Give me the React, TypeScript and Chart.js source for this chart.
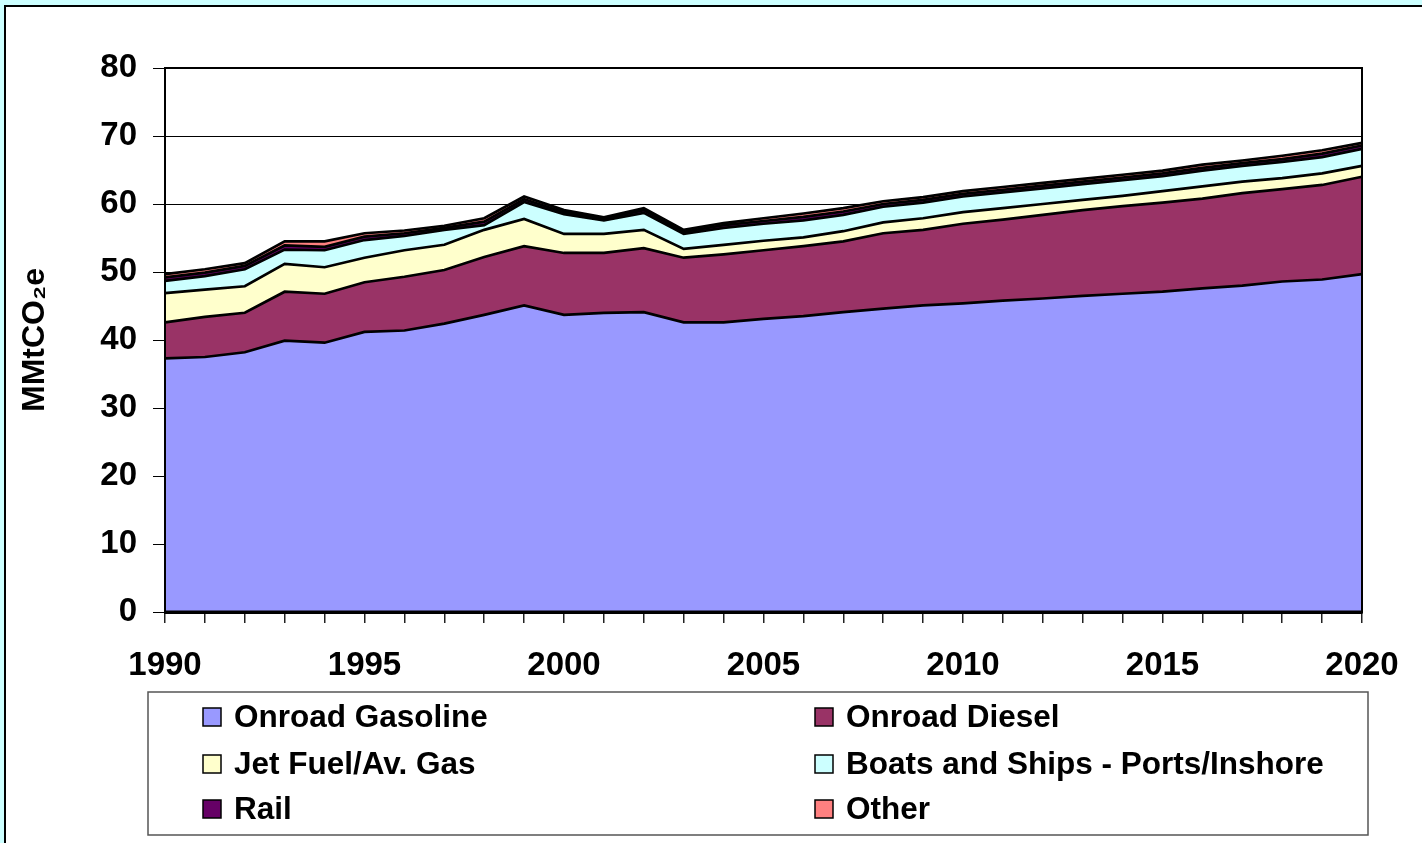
import React, { useEffect, useRef } from "react";
import { Chart, registerables } from "chart.js";

Chart.register(...registerables);

const years = [
  1990, 1991, 1992, 1993, 1994, 1995, 1996, 1997, 1998, 1999,
  2000, 2001, 2002, 2003, 2004, 2005, 2006, 2007, 2008, 2009,
  2010, 2011, 2012, 2013, 2014, 2015, 2016, 2017, 2018, 2019, 2020,
];

const onroadGasoline = [
  37.3, 37.5, 38.2, 39.9, 39.6, 41.2, 41.4, 42.4, 43.7, 45.1,
  43.7, 44.0, 44.1, 42.6, 42.6, 43.1, 43.5, 44.1, 44.6, 45.1,
  45.4, 45.8, 46.1, 46.5, 46.8, 47.1, 47.6, 48.0, 48.6, 48.9, 49.7,
];
const onroadDiesel = [
  5.3, 5.9, 5.8, 7.2, 7.2, 7.3, 7.9, 7.9, 8.5, 8.7,
  9.1, 8.8, 9.4, 9.5, 10.0, 10.1, 10.3, 10.4, 11.1, 11.1,
  11.7, 11.9, 12.3, 12.6, 12.9, 13.1, 13.2, 13.6, 13.6, 13.9, 14.3,
];
const jetFuel = [
  4.3, 4.0, 3.9, 4.1, 3.9, 3.6, 3.9, 3.7, 4.0, 4.0,
  2.8, 2.8, 2.7, 1.3, 1.4, 1.4, 1.3, 1.5, 1.6, 1.7,
  1.7, 1.7, 1.6, 1.5, 1.5, 1.7, 1.8, 1.7, 1.6, 1.7, 1.6,
];
const boatsShips = [
  1.8, 2.0, 2.5, 2.1, 2.5, 2.6, 2.1, 2.2, 0.7, 2.5,
  2.9, 2.0, 2.5, 2.2, 2.5, 2.5, 2.5, 2.4, 2.3, 2.3,
  2.3, 2.3, 2.3, 2.3, 2.3, 2.2, 2.3, 2.3, 2.4, 2.4, 2.5,
];
const rail = [
  0.5, 0.5, 0.5, 0.6, 0.5, 0.5, 0.4, 0.3, 0.5, 0.4,
  0.3, 0.25, 0.4, 0.3, 0.4, 0.4, 0.5, 0.5, 0.4, 0.4,
  0.4, 0.4, 0.4, 0.4, 0.4, 0.4, 0.4, 0.4, 0.4, 0.5, 0.5,
];
const other = [
  0.5, 0.5, 0.4, 0.6, 0.8, 0.5, 0.4, 0.3, 0.5, 0.4,
  0.3, 0.2, 0.3, 0.3, 0.3, 0.4, 0.5, 0.5, 0.4, 0.4,
  0.4, 0.4, 0.4, 0.4, 0.4, 0.4, 0.5, 0.4, 0.5, 0.5, 0.4,
];

const seriesNames = [
  "Onroad Gasoline",
  "Onroad Diesel",
  "Jet Fuel/Av. Gas",
  "Boats and Ships - Ports/Inshore",
  "Rail",
  "Other",
];
const seriesColors = ["#9999FF", "#993366", "#FFFFCC", "#CCFFFF", "#660066", "#FF8080"];
const seriesValues = [onroadGasoline, onroadDiesel, jetFuel, boatsShips, rail, other];

const yTitle = "MMtCO\u2082e";
const FONT = "'Liberation Sans', Arial, sans-serif";

const W = 1422;
const H = 843;

const backgroundPlugin = {
  id: "pageBackground",
  beforeDraw(chart: any) {
    const ctx = chart.ctx;
    ctx.save();
    ctx.fillStyle = "#CCFFFF";
    ctx.fillRect(0, 0, W, H);
    ctx.fillStyle = "#FFFFFF";
    ctx.fillRect(5, 6, W, H);
    ctx.strokeStyle = "#000";
    ctx.lineWidth = 2;
    ctx.beginPath();
    ctx.moveTo(5, H);
    ctx.lineTo(5, 6);
    ctx.lineTo(W, 6);
    ctx.stroke();
    ctx.restore();
  },
};

const framePlugin = {
  id: "plotFrame",
  afterDatasetsDraw(chart: any) {
    const { left, top, right, bottom } = chart.chartArea;
    const ctx = chart.ctx;
    ctx.save();
    ctx.strokeStyle = "#000";
    ctx.lineWidth = 2;
    ctx.strokeRect(left, top, right - left, bottom - top);
    ctx.lineWidth = 3;
    ctx.beginPath();
    ctx.moveTo(left - 1, bottom);
    ctx.lineTo(right + 1, bottom);
    ctx.stroke();
    ctx.restore();
  },
};

const legendPlugin = {
  id: "boxLegend",
  afterDraw(chart: any) {
    const ctx = chart.ctx;
    const boxL = 148, boxT = 692, boxR = 1368, boxB = 835;
    ctx.save();
    ctx.strokeStyle = "#555";
    ctx.lineWidth = 1.5;
    ctx.strokeRect(boxL, boxT, boxR - boxL, boxB - boxT);
    const colX = [203, 815];
    const rowY = [717, 764, 809];
    ctx.font = `bold 31.5px ${FONT}`;
    ctx.textBaseline = "middle";
    ctx.fillStyle = "#000";
    chart.data.datasets.forEach((ds: any, i: number) => {
      const x = colX[i % 2];
      const y = rowY[Math.floor(i / 2)];
      ctx.fillStyle = ds.backgroundColor;
      ctx.fillRect(x, y - 9, 18, 18);
      ctx.strokeStyle = "#000";
      ctx.lineWidth = 1.5;
      ctx.strokeRect(x, y - 9, 18, 18);
      ctx.fillStyle = "#000";
      ctx.fillText(ds.label, x + 31, y + 1);
    });
    ctx.restore();
  },
};

export default function App() {
  const ref = useRef<HTMLCanvasElement | null>(null);

  useEffect(() => {
    if (!ref.current) return;
    const tickFont = { family: FONT, size: 33, weight: "bold" as const };
    const chart = new Chart(ref.current, {
      type: "line",
      data: {
        labels: years.map(String),
        datasets: seriesNames.map((name, i) => ({
          label: name,
          data: seriesValues[i],
          backgroundColor: seriesColors[i],
          borderColor: "#000",
          borderWidth: 2.7,
          fill: i === 0 ? "origin" : "-1",
          pointRadius: 0,
          tension: 0,
        })),
      },
      options: {
        responsive: false,
        animation: false,
        layout: { padding: { left: 12, top: 68, right: 60, bottom: 0 } },
        plugins: {
          legend: { display: false },
          tooltip: { enabled: false },
        },
        scales: {
          x: {
            type: "category",
            offset: false,
            grid: {
              drawOnChartArea: false,
              drawTicks: true,
              tickLength: 11,
              color: "#222",
              lineWidth: 1.5,
            },
            border: { color: "#000", width: 3 },
            ticks: {
              autoSkip: false,
              maxRotation: 0,
              minRotation: 0,
              padding: 23,
              color: "#000",
              font: tickFont,
              callback: (_v: any, i: number) => (years[i] % 5 === 0 ? String(years[i]) : ""),
            },
            afterFit: (s: any) => {
              s.height = H - 612;
            },
          },
          y: {
            stacked: true,
            min: 0,
            max: 80,
            ticks: { stepSize: 10, padding: 16, color: "#000", font: tickFont },
            grid: { color: "#000", lineWidth: 1, tickLength: 12 },
            border: { color: "#000", width: 2 },
            title: {
              display: true,
              text: yTitle,
              color: "#000",
              font: { family: FONT, size: 32, weight: "bold" },
              padding: 4,
            },
            afterFit: (s: any) => {
              s.width = 153;
            },
          },
        },
      },
      plugins: [backgroundPlugin, framePlugin, legendPlugin],
    });
    return () => chart.destroy();
  }, []);

  return (
    <div style={{ position: "fixed", left: 0, top: 0, width: W, height: H }}>
      <canvas ref={ref} width={W} height={H} style={{ display: "block", width: W, height: H }} />
    </div>
  );
}
